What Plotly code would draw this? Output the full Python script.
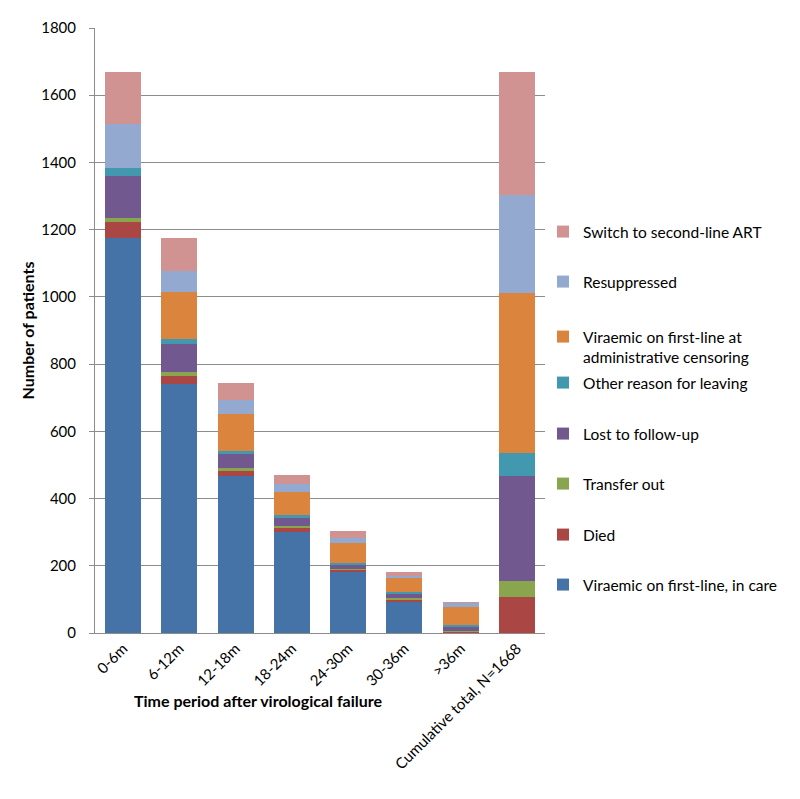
import plotly.graph_objects as go

categories = ["0-6m", "6-12m", "12-18m", "18-24m", "24-30m", "30-36m", ">36m",
              "Cumulative total, N=1668"]

in_care = [1176, 742, 468, 301, 184, 92, 0, 0]
died = [48, 23, 15, 13, 4, 8, 4, 106]
transfer_out = [12, 12, 7, 4, 2, 5, 1, 49]
lost_fu = [124, 84, 42, 25, 13, 13, 15, 312]
other_reason = [22, 14, 10, 8, 4, 4, 3, 68]
viraemic_admin = [0, 139, 110, 69, 62, 42, 54, 476]
resuppressed = [132, 63, 41, 23, 15, 7, 13, 293]
switch_2nd = [154, 99, 50, 26, 20, 11, 2, 364]

series = [
    ("Viraemic on first-line, in care", in_care, "#4572A7"),
    ("Died", died, "#AA4643"),
    ("Transfer out", transfer_out, "#89A54E"),
    ("Lost to follow-up", lost_fu, "#71588F"),
    ("Other reason for leaving", other_reason, "#4198AF"),
    ("Viraemic on first-line at<br>administrative censoring", viraemic_admin, "#DB843D"),
    ("Resuppressed", resuppressed, "#93A9CF"),
    ("Switch to second-line ART", switch_2nd, "#D19392"),
]

# legend item vertical centres in pixels (bottom item first)
legend_pix = [585, 535, 484, 434, 383, 333, 282, 232]

FONT = "Lato, Carlito, Calibri, sans-serif"
OFF = 8  # page body margin
PLOT_TOP, PLOT_BOTTOM, PLOT_LEFT, PLOT_RIGHT = 28, 633, 95, 545
H = PLOT_BOTTOM - PLOT_TOP
W = PLOT_RIGHT - PLOT_LEFT
ML = PLOT_LEFT - OFF
MT = PLOT_TOP - OFF
MR = 800 - ML - W
MB = 799 - MT - H

fig = go.Figure()
layout_legends = {}
for i, (name, vals, col) in enumerate(series):
    lname = "legend" if i == 0 else f"legend{i+1}"
    fig.add_trace(go.Bar(
        x=categories, y=vals, name=name, marker_color=col,
        marker_line_width=0, legend=lname,
    ))
    ypix = legend_pix[i]
    two_line = "<br>" in name
    d = dict(
        x=(543 - PLOT_LEFT) / W,
        xanchor="left",
        y=(PLOT_BOTTOM - ypix) / H,
        yanchor="middle",
        valign="top",
        font=dict(family=FONT, size=15.5, color="#000000"),
        bgcolor="rgba(0,0,0,0)",
        borderwidth=0,
        itemwidth=30,
    )
    if two_line:
        d["yanchor"] = "top"
        d["y"] = (PLOT_BOTTOM - (ypix - 13)) / H
    layout_legends[lname] = d

fig.update_layout(
    barmode="stack",
    bargap=0.36,
    width=800, height=799,
    margin=dict(l=ML, r=MR, t=MT, b=MB, autoexpand=False),
    paper_bgcolor="white",
    plot_bgcolor="white",
    font=dict(family=FONT, size=15, color="#000000"),
    showlegend=True,
    **layout_legends,
)

fig.update_yaxes(
    range=[0, 1800], dtick=200,
    showgrid=True, gridcolor="#8c8c8c", gridwidth=1,
    showline=True, linecolor="#8c8c8c", linewidth=1,
    ticks="outside", ticklen=5, tickcolor="#8c8c8c",
    ticklabelstandoff=10,
    tickfont=dict(family=FONT, size=15),
    title=dict(text="<b>Number of patients</b>", font=dict(family=FONT, size=16), standoff=2),
    zeroline=False,
)
fig.update_xaxes(
    showline=True, linecolor="#8c8c8c", linewidth=1,
    tickangle=-45,
    tickfont=dict(family=FONT, size=15),
    ticks="",
)

fig.add_annotation(
    text="<b>Time period after virological failure</b>",
    xref="paper", yref="paper",
    x=(258 - PLOT_LEFT) / W, y=(PLOT_BOTTOM - 700) / H,
    xanchor="center", yanchor="middle", showarrow=False,
    font=dict(family=FONT, size=16, color="#000000"),
)

fig.write_html("out.html")
